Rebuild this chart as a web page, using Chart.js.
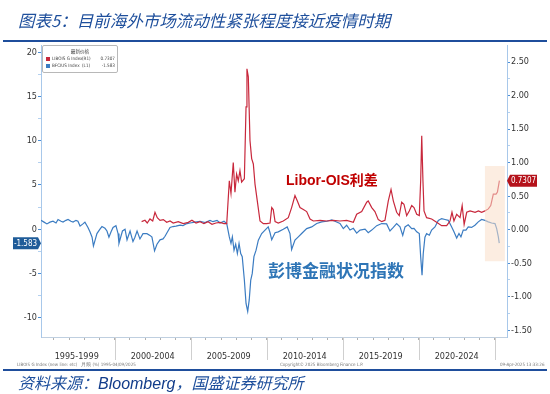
<!DOCTYPE html>
<html>
<head>
<meta charset="utf-8">
<script src="https://cdn.jsdelivr.net/npm/chart.js@4.4.1/dist/chart.umd.min.js"></script>
<style>
html, body { margin: 0; padding: 0; background: #fff; }
#wrap { position: relative; width: 550px; height: 394px; overflow: hidden; font-family: 'Noto Sans CJK SC', 'Noto Sans', sans-serif; }
#chart { position: absolute; left: 0; top: 0; }
.title { position: absolute; left: 18px; top: 8px; font-size: 16.5px; line-height: 24px; font-style: italic; color: #1e4f9c; white-space: nowrap; }
.rule { position: absolute; left: 3px; width: 544px; height: 2px; background: #1f4e9c; }
.source { position: absolute; left: 18px; top: 371px; font-size: 16px; line-height: 22px; font-style: italic; color: #1e4f9c; white-space: nowrap; }
.source b { font-family: 'Liberation Sans', Arial, sans-serif; font-weight: normal; color: #123c8a; }
.note { position: absolute; left: 286px; top: 170px; font-size: 14px; line-height: 20px; font-weight: bold; color: #c00000; font-family: 'Liberation Sans', 'Noto Sans CJK SC', sans-serif; white-space: nowrap; }
.note2 { position: absolute; left: 268px; top: 258px; font-size: 17px; line-height: 24px; font-weight: bold; color: #2e75b6; white-space: nowrap; }
.leg { position: absolute; left: 42px; top: 45px; width: 74px; height: 26px; border: 1px solid #b8b8b8; border-radius: 2px; background: rgba(255,255,255,0.92); font-family: 'Liberation Sans Narrow', 'DejaVu Sans Condensed', sans-serif; font-size: 4.6px; color: #444; }
.leg .lt { position: absolute; left: 0; width: 74px; top: 2px; text-align: center; font-family: 'Noto Sans CJK SC', sans-serif; }
.leg .row { position: absolute; left: 3px; width: 69px; height: 6px; line-height: 6px; white-space: nowrap; }
.leg .sw { position: absolute; left: 0; top: 1px; width: 4px; height: 4px; }
.leg .nm { position: absolute; left: 6px; }
.leg .ax { position: absolute; left: 36px; }
.leg .vl { position: absolute; right: 0; }
.foot { position: absolute; top: 362px; font-size: 4.5px; color: #777; font-family: 'Liberation Sans Narrow', 'DejaVu Sans Condensed', sans-serif; white-space: nowrap; }
</style>
</head>
<body>
<div id="wrap">
  <canvas id="chart" width="550" height="394"></canvas>
  <div class="title">图表5：目前海外市场流动性紧张程度接近疫情时期</div>
  <div class="rule" style="top:40px"></div>
  <div class="leg">
    <div class="lt">最新价格</div>
    <div class="row" style="top:10px"><span class="sw" style="background:#c8283c"></span><span class="nm">LIBOIS G Index</span><span class="ax">(R1)</span><span class="vl">0.7307</span></div>
    <div class="row" style="top:17px"><span class="sw" style="background:#3b7cc2"></span><span class="nm">BFCIUS Index</span><span class="ax">(L1)</span><span class="vl">-1.583</span></div>
  </div>
  <div class="note">Libor-OIS利差</div>
  <div class="note2">彭博金融状况指数</div>
  <div class="foot" style="left:17px">LIBOIS G Index (new line: etc)&nbsp;&nbsp;&nbsp;月频 (%) 1995-04/09/2025</div>
  <div class="foot" style="left:280px">Copyright© 2025 Bloomberg Finance L.P.</div>
  <div class="foot" style="left:500px">09-Apr-2025 13:33:26</div>
  <div class="rule" style="top:369px"></div>
  <div class="source">资料来源：<b>Bloomberg</b>，国盛证券研究所</div>
</div>
<script>
// Bloomberg financial conditions index (left axis)
const blueYears = [
  1995.15, 1995.35, 1995.54, 1995.74, 1995.94, 1996.14, 1996.27, 1996.47, 1996.60, 1996.79,
  1996.93, 1997.12, 1997.26, 1997.45, 1997.58, 1997.72, 1997.91, 1998.04, 1998.24, 1998.37,
  1998.51, 1998.60, 1998.70, 1998.83, 1999.03, 1999.16, 1999.36, 1999.49, 1999.62, 1999.76,
  1999.89, 2000.08, 2000.22, 2000.28, 2000.41, 2000.51, 2000.68, 2000.81, 2001.01, 2001.20,
  2001.33, 2001.47, 2001.66, 2001.86, 2002.12, 2002.32, 2002.45, 2002.62, 2002.78, 2002.98,
  2003.18, 2003.31, 2003.44, 2003.64, 2003.83, 2004.03, 2004.30, 2004.49, 2004.69, 2004.95,
  2005.28, 2005.61, 2005.94, 2006.27, 2006.47, 2006.73, 2006.93, 2007.19, 2007.37, 2007.54,
  2007.65, 2007.74, 2007.85, 2007.96, 2008.07, 2008.18, 2008.29, 2008.39, 2008.53, 2008.64,
  2008.75, 2008.85, 2008.95, 2009.05, 2009.16, 2009.30, 2009.45, 2009.67, 2009.89, 2010.10,
  2010.22, 2010.33, 2010.55, 2010.76, 2011.09, 2011.35, 2011.53, 2011.64, 2011.86, 2012.08,
  2012.30, 2012.63, 2012.96, 2013.29, 2013.62, 2013.95, 2014.28, 2014.49, 2014.82, 2015.04,
  2015.26, 2015.48, 2015.70, 2015.92, 2016.14, 2016.47, 2016.68, 2016.91, 2017.24, 2017.57,
  2017.89, 2018.11, 2018.33, 2018.55, 2018.77, 2018.95, 2019.10, 2019.31, 2019.54, 2019.69,
  2019.87, 2020.04, 2020.13, 2020.22, 2020.30, 2020.41, 2020.52, 2020.70, 2020.85, 2021.07,
  2021.29, 2021.51, 2021.73, 2021.95, 2022.17, 2022.32, 2022.50, 2022.65, 2022.78, 2022.93,
  2023.11, 2023.26, 2023.48, 2023.70, 2023.92, 2024.14, 2024.36, 2024.58, 2024.80, 2025.02,
  2025.13, 2025.24, 2025.30
];
const blueVals = [
  1.0, 0.8, 0.6, 0.8, 0.9, 0.7, 1.1, 0.9, 0.8, 1.0,
  1.1, 0.9, 0.8, 1.0, 0.9, 0.35, 0.6, 0.8, 0.2, -0.3,
  -0.9, -1.9, -1.3, -0.5, 0.0, 0.3, 0.1, -0.2, -0.9, -0.3,
  0.2, 0.4, -0.5, -1.6, -0.8, -0.2, 0.0, -1.2, -0.2, -1.4,
  -0.9, -0.2, -1.1, -0.5, -0.5, -0.7, -0.9, -2.45, -1.7, -1.2,
  -1.1, -0.8, -0.4, 0.2, 0.3, 0.35, 0.45, 0.4, 0.6, 0.7,
  0.8, 0.9, 0.75, 1.0, 0.85, 1.0, 0.7, 0.9, 0.64, -0.87,
  -1.6, -0.87, -2.37, -1.7, -2.75, -1.6, -2.75, -3.1, -5.75, -8.4,
  -9.3, -8.0, -5.75, -5.0, -3.1, -2.37, -1.24, -0.49, -0.1, 0.26,
  -0.4, -1.2, -0.4, -0.3, 0.0, 0.26, -0.49, -2.3, -1.24, -0.87,
  -0.49, 0.07, 0.26, 0.64, 0.83, 0.9, 1.05, 0.9, 0.64, 0.07,
  0.45, -0.1, 0.1, -0.45, -0.1, 0.0, -0.4, -0.1, 0.4, 0.64,
  0.6, -0.2, 0.2, 0.64, 0.26, -0.7, 0.26, 0.5, 0.07, 0.1,
  -0.3, -0.49, -3.1, -5.2, -2.75, -0.9, -0.5, -0.68, -0.1, 0.26,
  1.0, 1.2, 1.1, 1.0, 0.26, -0.3, -1.0, -0.49, -0.87, -0.1,
  -0.1, 0.26, 0.2, 0.45, 0.83, 1.1, 1.0, 0.83, 0.7, 0.64,
  0.07, -0.87, -1.583
];

// Libor-OIS spread (right axis)
const redYears = [
  2001.77, 2001.99, 2002.14, 2002.32, 2002.50, 2002.65, 2002.80, 2002.98, 2003.20, 2003.42,
  2003.64, 2003.85, 2004.18, 2004.51, 2004.84, 2005.08, 2005.35, 2005.61, 2005.87, 2006.14,
  2006.40, 2006.66, 2006.93, 2007.19, 2007.37, 2007.54, 2007.65, 2007.80, 2007.91, 2008.02,
  2008.13, 2008.24, 2008.35, 2008.53, 2008.64, 2008.70, 2008.79, 2008.90, 2009.01, 2009.12,
  2009.23, 2009.38, 2009.56, 2009.78, 2010.00, 2010.22, 2010.33, 2010.43, 2010.55, 2010.76,
  2011.09, 2011.42, 2011.64, 2011.86, 2012.01, 2012.19, 2012.41, 2012.63, 2012.85, 2013.07,
  2013.51, 2013.95, 2014.38, 2014.82, 2015.26, 2015.70, 2015.92, 2016.25, 2016.58, 2016.68,
  2016.91, 2017.12, 2017.34, 2017.57, 2017.78, 2018.00, 2018.18, 2018.33, 2018.55, 2018.72,
  2018.88, 2019.03, 2019.21, 2019.38, 2019.54, 2019.69, 2019.87, 2020.04, 2020.13, 2020.20,
  2020.28, 2020.35, 2020.52, 2020.85, 2021.18, 2021.51, 2021.84, 2022.06, 2022.19, 2022.32,
  2022.50, 2022.72, 2022.86, 2022.99, 2023.16, 2023.38, 2023.71, 2023.93, 2024.14, 2024.36,
  2024.58, 2024.74, 2024.91, 2025.09, 2025.18, 2025.31
];
const redVals = [
  0.12, 0.14, 0.1, 0.16, 0.13, 0.26, 0.18, 0.14, 0.15, 0.11,
  0.13, 0.1, 0.12, 0.09, 0.11, 0.14, 0.1, 0.12, 0.09, 0.12,
  0.08, 0.1, 0.11, 0.09, 0.09, 0.73, 0.54, 1.0, 0.56, 0.83,
  0.73, 0.88, 0.71, 0.76, 1.83, 2.4, 2.28, 1.33, 1.06, 0.98,
  0.68, 0.43, 0.13, 0.09, 0.09, 0.1, 0.33, 0.3, 0.12, 0.1,
  0.13, 0.18, 0.33, 0.51, 0.43, 0.33, 0.3, 0.27, 0.16, 0.13,
  0.14, 0.13, 0.14, 0.13, 0.14, 0.11, 0.23, 0.27, 0.41, 0.43,
  0.33, 0.27, 0.15, 0.12, 0.14, 0.43, 0.6, 0.43, 0.26, 0.21,
  0.41, 0.38, 0.21, 0.28, 0.36, 0.33, 0.23, 0.21, 0.73, 1.4,
  0.73, 0.28, 0.18, 0.16, 0.11, 0.06, 0.06, 0.13, 0.26, 0.13,
  0.23, 0.18, 0.36, 0.08, 0.26, 0.28, 0.26, 0.28, 0.26, 0.28,
  0.31, 0.36, 0.53, 0.53, 0.56, 0.7307
];

// axis ticks and labels
const leftTicks = [-10, -7.5, -5, -2.5, 0, 2.5, 5, 7.5, 10, 12.5, 15, 17.5, 20];
const rightTicks = [-1.5, -1.25, -1, -0.75, -0.5, -0.25, 0, 0.25, 0.5, 0.75, 1, 1.25, 1.5, 1.75, 2, 2.25, 2.5];
const yearTicks = [1996, 1997, 1998, 1999, 2000, 2001, 2002, 2003, 2004, 2005, 2006, 2007, 2008, 2009, 2010,
  2011, 2012, 2013, 2014, 2015, 2016, 2017, 2018, 2019, 2020, 2021, 2022, 2023, 2024, 2025];
const periodMids = [1997.5, 2002.5, 2007.5, 2012.5, 2017.5, 2022.5];
const periodLabels = ['1995-1999', '2000-2004', '2005-2009', '2010-2014', '2015-2019', '2020-2024'];
const dividerYears = [2000, 2005, 2010, 2015, 2020, 2025];

// highlighted recent period (years, right-axis range)
const boxYears = [2024.36, 2025.67];
const boxRange = [-0.47, 0.95];

const narrow = "'Liberation Sans Narrow', 'DejaVu Sans Condensed', sans-serif";

const overlay = {
  id: 'overlay',
  afterDatasetsDraw(c) {
    const { ctx, scales: { x, yR } } = c;
    ctx.save();
    ctx.fillStyle = 'rgba(250, 222, 200, 0.55)';
    const x1 = x.getPixelForValue(boxYears[0]), x2 = x.getPixelForValue(boxYears[1]);
    const y1 = yR.getPixelForValue(boxRange[1]), y2 = yR.getPixelForValue(boxRange[0]);
    ctx.fillRect(x1, y1, x2 - x1, y2 - y1);
    ctx.restore();
  },
  afterDraw(c) {
    const { ctx, scales: { x, yL, yR }, chartArea: a } = c;
    ctx.save();
    // 5-year dividers under the axis
    ctx.strokeStyle = '#cfcfcf';
    ctx.lineWidth = 1;
    dividerYears.forEach(v => {
      const px = Math.round(x.getPixelForValue(v)) + 0.5;
      ctx.beginPath();
      ctx.moveTo(px, a.bottom);
      ctx.lineTo(px, a.bottom + 23);
      ctx.stroke();
    });
    // last value tags
    const bLast = blueVals[blueVals.length - 1];
    const rLast = redVals[redVals.length - 1];
    ctx.font = '8px ' + narrow;
    ctx.textAlign = 'center';
    ctx.textBaseline = 'middle';
    let y = yL.getPixelForValue(bLast);
    ctx.fillStyle = '#1f5c99';
    ctx.beginPath();
    ctx.moveTo(13, y - 6); ctx.lineTo(38, y - 6); ctx.lineTo(41, y); ctx.lineTo(38, y + 6); ctx.lineTo(13, y + 6);
    ctx.closePath(); ctx.fill();
    ctx.fillStyle = '#fff';
    ctx.fillText(bLast.toFixed(3), 25.5, y + 0.5);
    y = yR.getPixelForValue(rLast);
    ctx.fillStyle = '#b5121b';
    ctx.beginPath();
    ctx.moveTo(507, y); ctx.lineTo(510, y - 6); ctx.lineTo(537, y - 6); ctx.lineTo(537, y + 6); ctx.lineTo(510, y + 6);
    ctx.closePath(); ctx.fill();
    ctx.fillStyle = '#fff';
    ctx.fillText(rLast.toFixed(4), 523.5, y + 0.5);
    ctx.restore();
  }
};

new Chart(document.getElementById('chart'), {
  type: 'line',
  data: {
    datasets: [
      {
        label: 'LIBOIS G Index',
        data: redYears.map((v, i) => ({ x: v, y: redVals[i] })),
        yAxisID: 'yR',
        borderColor: '#c8283c',
        borderWidth: 1.2,
        pointRadius: 0,
        tension: 0
      },
      {
        label: 'BFCIUS Index',
        data: blueYears.map((v, i) => ({ x: v, y: blueVals[i] })),
        yAxisID: 'yL',
        borderColor: '#3b7cc2',
        borderWidth: 1.2,
        pointRadius: 0,
        tension: 0
      }
    ]
  },
  options: {
    responsive: false,
    animation: false,
    layout: { padding: { top: 45, bottom: 27, left: 0, right: 0 } },
    plugins: { legend: { display: false }, tooltip: { enabled: false } },
    scales: {
      x: {
        type: 'linear',
        min: 1995.15,
        max: 2025.81,
        afterBuildTicks: s => { s.ticks = yearTicks.concat(periodMids).map(v => ({ value: v })); },
        afterFit: s => { s.height = 30; },
        grid: {
          drawOnChartArea: false,
          tickLength: 3,
          tickColor: ctx => periodMids.includes(ctx.tick.value) ? 'rgba(0,0,0,0)' : '#b0b0b0'
        },
        border: { color: '#bfcfe0' },
        ticks: {
          autoSkip: false,
          maxRotation: 0,
          padding: 11,
          color: '#333',
          font: { family: narrow, size: 9 },
          callback: v => {
            const i = periodMids.indexOf(v);
            return i >= 0 ? periodLabels[i] : '';
          }
        }
      },
      yL: {
        position: 'left',
        min: -12.19,
        max: 20.83,
        afterBuildTicks: s => { s.ticks = leftTicks.map(v => ({ value: v })); },
        afterFit: s => { s.width = 41; },
        grid: {
          drawOnChartArea: false,
          tickLength: 3,
          tickColor: ctx => ctx.tick.value % 5 === 0 ? '#4d8fd6' : '#b3d0ef'
        },
        border: { color: '#a8c8ea' },
        ticks: {
          padding: 1,
          color: '#333',
          font: { family: narrow, size: 9 },
          callback: v => v % 5 === 0 ? String(v) : ''
        }
      },
      yR: {
        position: 'right',
        min: -1.6,
        max: 2.754,
        afterBuildTicks: s => { s.ticks = rightTicks.map(v => ({ value: v })); },
        afterFit: s => { s.width = 43; },
        grid: {
          drawOnChartArea: false,
          tickLength: 3,
          tickColor: ctx => Number.isInteger(ctx.tick.value * 2) ? '#4d8fd6' : '#b3d0ef'
        },
        border: { color: '#a8c8ea' },
        ticks: {
          padding: 1,
          color: '#333',
          font: { family: narrow, size: 9 },
          callback: v => Number.isInteger(v * 2) ? v.toFixed(2) : ''
        }
      }
    }
  },
  plugins: [overlay]
});
</script>
</body>
</html>
